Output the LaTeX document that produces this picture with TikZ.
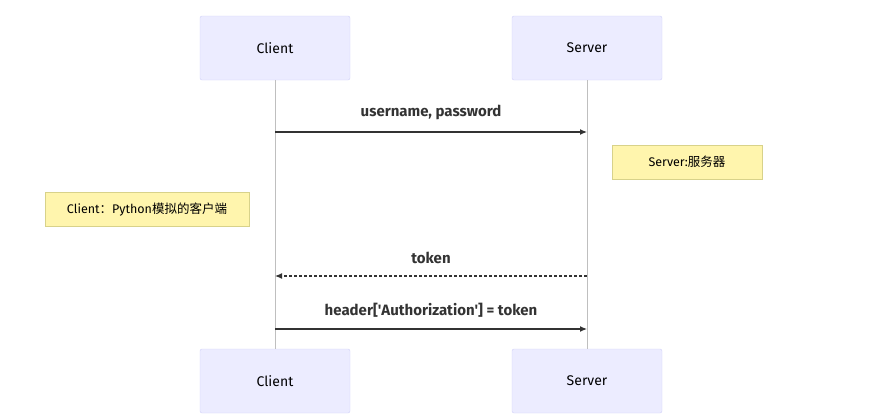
\documentclass[tikz,border=0pt]{standalone}
\usepackage{fontspec}
\setmainfont{Fira Sans}
\newfontfamily\cjkfont{Noto Sans CJK SC}
\usepackage{tikz}
\usetikzlibrary{positioning}
\usetikzlibrary{arrows.meta}
\definecolor{actorfill}{HTML}{ECECFF}
\definecolor{actorline}{HTML}{D0D0F8}
\definecolor{notefill}{HTML}{FFF5AD}
\definecolor{noteline}{HTML}{D8D28A}
\definecolor{msgline}{HTML}{333333}

\begin{document}
\begin{tikzpicture}[
    x=1pt, y=-1pt,
    actor/.style={rectangle, draw=actorline, fill=actorfill, rounded corners=2pt, minimum width=150pt, minimum height=64pt, font=\fontsize{14}{16}\selectfont},
    note/.style={rectangle, draw=noteline, fill=notefill, minimum height=34pt, font=\fontsize{12.5}{14}\selectfont},
    lifeline/.style={draw=black!25, line width=0.8pt},
    msg/.style={-{Latex[length=7pt,width=6pt]}, draw=msgline, line width=1.2pt},
    reply/.style={msg, densely dashed},
    msglabel/.style={above=8pt, font=\bfseries\fontsize{15}{17}\selectfont, text=black!80}
]
    \useasboundingbox (0,0) rectangle (889,418);

    % Top actors
    \node[actor] (client) at (275,48) {Client};
    \node[actor] (server) at (587,48) {Server};

    % Bottom actors
    \node[actor] (clientB) at (275,381) {Client};
    \node[actor] (serverB) at (587,381) {Server};

    % Lifelines
    \draw[lifeline] (client) -- (clientB);
    \draw[lifeline] (server) -- (serverB);

    % Message anchors on lifelines
    \coordinate (c1) at (275,132);
    \coordinate (s1) at (587,132);
    \coordinate (c2) at (275,276);
    \coordinate (s2) at (587,276);
    \coordinate (c3) at (275,329);
    \coordinate (s3) at (587,329);

    % Messages
    \draw[msg] (c1) -- node[msglabel] {username, password} (s1);
    \draw[reply] (s2) -- node[msglabel] {token} (c2);
    \draw[msg] (c3) -- node[msglabel] {header[\textquotesingle Authorization\textquotesingle] = token} (s3);

    % Notes
    \node[note, minimum width=150pt] (servernote) at (687,162) {Server:{\cjkfont 服务器}};
    \node[note, minimum width=204pt] (clientnote) at (147,209.5) {Client{\cjkfont ：}Python{\cjkfont 模拟的客户端}};
\end{tikzpicture}
\end{document}
